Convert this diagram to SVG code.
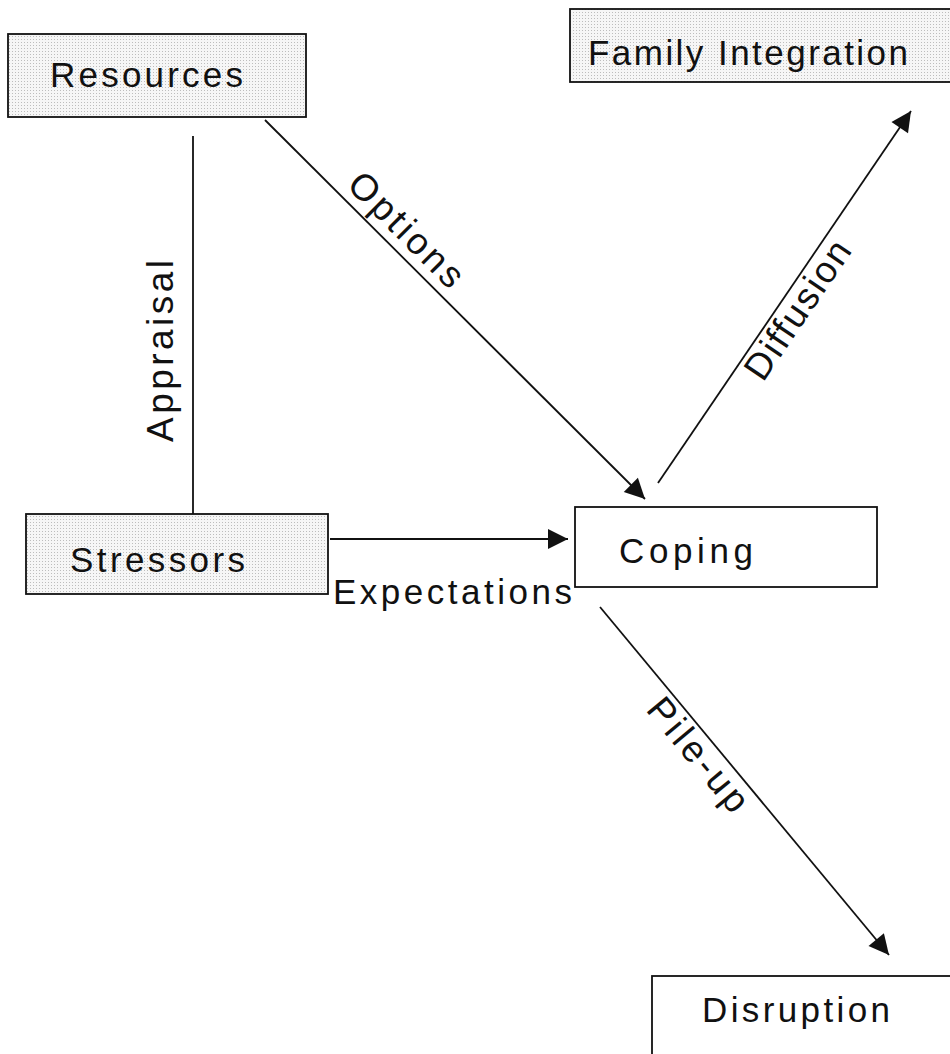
<svg xmlns="http://www.w3.org/2000/svg" width="950" height="1054" viewBox="0 0 950 1054">
<style>
.box{stroke:#111;stroke-width:1.8}
.shaded{fill:url(#dots)}
.plain{fill:#ffffff}
.lbl{font-family:"Liberation Sans",Arial,sans-serif;font-size:35px;fill:#111}
.rot{font-size:37px}
.edge{stroke:#111;stroke-width:1.8;fill:none}
</style>
<defs>
<pattern id="dots" width="3" height="3" patternUnits="userSpaceOnUse">
<rect width="3" height="3" fill="#f6f6f6"/>
<rect width="1" height="1" fill="#bdbdbd"/>
</pattern>
<marker id="arr" viewBox="-22 -11 24 22" refX="0" refY="0" markerWidth="24" markerHeight="22" markerUnits="userSpaceOnUse" orient="auto">
<path d="M0,0 L-20,-10 L-20,10 Z" fill="#111"/>
</marker>
</defs>
<rect width="950" height="1054" fill="#ffffff"/>
<g id="connectors">
<line class="edge" x1="193" y1="136" x2="193" y2="514"/>
<line class="edge" x1="265" y1="120" x2="645" y2="499" marker-end="url(#arr)"/>
<line class="edge" x1="330" y1="539" x2="568" y2="539" marker-end="url(#arr)"/>
<line class="edge" x1="658" y1="483" x2="911" y2="111" marker-end="url(#arr)"/>
<line class="edge" x1="600" y1="607" x2="889" y2="955" marker-end="url(#arr)"/>
<text class="lbl rot" transform="translate(173,442) rotate(-90)" textLength="182" lengthAdjust="spacing">Appraisal</text>
<text class="lbl rot" transform="translate(345.6,186.5) rotate(45)" textLength="147" lengthAdjust="spacing">Options</text>
<text class="lbl" x="333" y="604" textLength="239" lengthAdjust="spacing">Expectations</text>
<text class="lbl rot" transform="translate(763,383) rotate(-55.8)" textLength="160" lengthAdjust="spacing">Diffusion</text>
<text class="lbl rot" transform="translate(645,710) rotate(50.3)" textLength="137" lengthAdjust="spacing">Pile-up</text>
</g>
<g id="resources">
<rect class="box shaded" x="8" y="34" width="298" height="83"/>
<text class="lbl" x="50" y="87" textLength="193" lengthAdjust="spacing">Resources</text>
</g>
<g id="family-integration">
<rect class="box shaded" x="570" y="9" width="400" height="73"/>
<text class="lbl" x="588" y="65" textLength="320" lengthAdjust="spacing">Family Integration</text>
</g>
<g id="stressors">
<rect class="box shaded" x="26" y="514" width="302" height="80"/>
<text class="lbl" x="70" y="572" textLength="175" lengthAdjust="spacing">Stressors</text>
</g>
<g id="coping">
<rect class="box plain" x="575" y="507" width="302" height="80"/>
<text class="lbl" x="619" y="563" textLength="134" lengthAdjust="spacing">Coping</text>
</g>
<g id="disruption">
<rect class="box plain" x="652" y="976" width="320" height="100"/>
<text class="lbl" x="702" y="1022" textLength="188" lengthAdjust="spacing">Disruption</text>
</g>
</svg>
